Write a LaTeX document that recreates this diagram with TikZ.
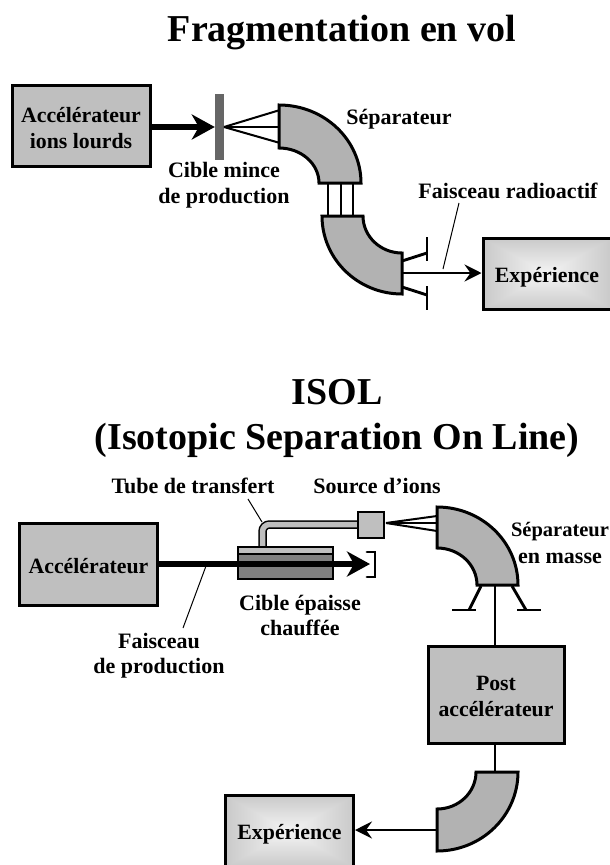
\documentclass[tikz,border=0pt]{standalone}
\usepackage{fontspec}
\setmainfont{Liberation Serif}
\usetikzlibrary{arrows.meta}
\pgfdeclarefunctionalshading{boxglow}{\pgfpoint{-50bp}{-50bp}}{\pgfpoint{50bp}{50bp}}{}{
	abs 50 div exch abs 50 div 2 copy lt {exch} if pop
	0.34 mul 0.96 exch sub dup dup
}
\tikzset{titre/.style={font=\bfseries\fontsize{38}{38}\selectfont, inner sep=0pt, anchor=base}}
\tikzset{legende/.style={font=\bfseries\fontsize{22}{22}\selectfont, inner sep=0pt, anchor=base}}
\tikzset{bloc/.style={draw=black, fill=blocgray, line width=3pt, inner sep=0pt, font=\bfseries\fontsize{21.8}{26}\selectfont, align=center, text height=20pt, text depth=3pt}}
\tikzset{deuxlignes/.style={text height=47pt}}
\tikzset{expe/.style={draw=black, shading=boxglow, line width=3pt, inner sep=0pt, minimum width=128pt, minimum height=71pt, font=\bfseries\fontsize{21.8}{26}\selectfont, text height=20pt, text depth=3pt}}
\tikzset{aimant/.style={draw=black, fill=sepgray, line width=3pt, line join=miter}}
\tikzset{trait/.style={line width=2.9pt}}
\tikzset{rayon/.style={line width=2pt}}
\tikzset{fleche/.style={line width=2.9pt, -{Stealth[length=17pt, width=17pt, inset=6pt]}}}
\tikzset{grossefleche/.style={line width=5.8pt, -{Stealth[length=23pt, width=25pt, inset=7pt]}}}
\tikzset{fil/.style={line width=1pt}}

\begin{document}
\begin{tikzpicture}[x=1pt, y=-1pt]

	\definecolor{blocgray}{gray}{0.75}
	\definecolor{sepgray}{gray}{0.70}
	\definecolor{ciblegray}{gray}{0.40}
	\definecolor{couchegray}{gray}{0.50}

	\useasboundingbox (0,0) rectangle (610,865);

	% titles
	\node (titre1) at (342,41.5) [titre] {Fragmentation en vol};
	\node (titre2) at (337,404) [titre] {ISOL};
	\node (titre3) at (337,449) [titre] {(Isotopic Separation On Line)};

	%%% first part

	% accelerator and target
	\node (acc1) at (81,126) [bloc, deuxlignes, minimum width=138pt, minimum height=81pt] {Accélérateur\\ions lourds};
	\node (cible1) at (219.5,127) [fill=ciblegray, minimum width=9pt, minimum height=66pt, inner sep=0pt] {};
	\coordinate (foyer1) at (224,127);
	\draw [grossefleche] (acc1.east |- foyer1) -- (cible1.west);

	% fan
	\coordinate (F1a) at (280,110);
	\coordinate (F1b) at (280,127);
	\coordinate (F1c) at (280,143);
	\foreach \f in {F1a, F1b, F1c}
		\draw [rayon] (foyer1) -- (\f);

	% separator
	\draw [aimant] (279,105) arc[start angle=270, end angle=360, x radius=82, y radius=78] -- (319,183) arc[start angle=360, end angle=270, x radius=40, y radius=35] -- cycle;
	\draw [aimant] (322,216) arc[start angle=180, end angle=90, x radius=80, y radius=78] -- (402,253) arc[start angle=90, end angle=180, x radius=39, y radius=37] -- cycle;

	% lines between the two parts
	\foreach \x in {328, 341, 353}
		\draw [trait] (\x,183) -- (\x,216);

	% slits
	\coordinate (S1h) at (427,253);
	\coordinate (S1b) at (427,295);
	\draw [trait] (427,237) -- (427,261);
	\draw [trait] (427,286) -- (427,310);
	\draw [trait] (402,261) -- (S1h);
	\draw [trait] (402,287) -- (S1b);

	% radioactive beam
	\node (expe1) at (547,273.5) [expe] {Expérience};
	\coordinate (sortie1) at (402,273);
	\draw [fleche] (sortie1) -- (sortie1 -| expe1.west);
	\coordinate (R1) at (459,203);
	\coordinate (R2) at (443,269);
	\draw [fil] (R1) -- (R2);

	% labels
	\node (cibleL1) at (224,177) [legende] {Cible mince};
	\node (cibleL2) at (224,203) [legende] {de production};
	\node (sepL) at (399,124) [legende] {Séparateur};
	\node (radioL) at (508,198) [legende] {Faisceau radioactif};

	%%% second part

	% tube
	\coordinate (T1) at (262.5,547);
	\coordinate (T2) at (262.5,524.5);
	\coordinate (T3) at (357,524.5);
	\draw [line width=8.5pt, rounded corners=7pt] (T1) -- (T2) -- (T3);
	\draw [line width=5.5pt, blocgray, rounded corners=7pt] (T1) -- (T2) -- (T3);
	\node (source) at (371,525) [draw=black, fill=blocgray, line width=1.5pt, minimum size=26pt, inner sep=0pt] {};

	% thick target
	\node (couche1) at (285.5,550.5) [draw=black, fill=blocgray, line width=1.5pt, minimum width=95pt, minimum height=7pt, inner sep=0pt] {};
	\node (couche2) at (285.5,566.5) [draw=black, fill=couchegray, line width=1.5pt, minimum width=95pt, minimum height=25pt, inner sep=0pt] {};

	% accelerator and beam
	\node (acc2) at (88.5,564.5) [bloc, minimum width=138pt, minimum height=82pt] {Accélérateur};
	\coordinate (bout) at (370,564);
	\draw [grossefleche] (acc2.east |- bout) -- (bout);
	\draw [trait, line cap=round] (367,552) -- (375,552) -- (375,577) -- (367,577);
	\coordinate (P1) at (206,566);
	\coordinate (P2) at (183,628);
	\draw [fil] (P1) -- (P2);
	\coordinate (Q1) at (248,499);
	\coordinate (Q2) at (262,522);
	\draw [fil] (Q1) -- (Q2);

	% fan
	\coordinate (foyer2) at (386,523);
	\coordinate (F2a) at (437,516);
	\coordinate (F2b) at (437,523);
	\coordinate (F2c) at (437,531);
	\foreach \f in {F2a, F2b, F2c}
		\draw [rayon] (foyer2) -- (\f);

	% mass separator
	\draw [aimant] (437,507) arc[start angle=270, end angle=360, x radius=81, y radius=78] -- (477,585) arc[start angle=360, end angle=270, x radius=40, y radius=37] -- cycle;
	\draw [trait] (481,586) -- (469,610);
	\draw [trait] (452,610) -- (476,610);
	\draw [trait] (512,586) -- (526,610);
	\draw [trait] (517,610) -- (541,610);

	% post accelerator
	\node (post) at (496,694.5) [bloc, deuxlignes, minimum width=136pt, minimum height=97pt] {Post\\accélérateur};
	\coordinate (sep3) at (495,586);
	\draw [trait] (sep3) -- (sep3 |- post.north);
	\coordinate (sep4) at (495,772);
	\draw [trait] (sep4 |- post.south) -- (sep4);

	% last separator
	\draw [aimant] (518,772) arc[start angle=0, end angle=90, x radius=81, y radius=79] -- (437,809) arc[start angle=90, end angle=0, x radius=39, y radius=37] -- cycle;

	% experiment
	\node (expe2) at (289.5,831) [expe] {Expérience};
	\coordinate (sortie2) at (437,830);
	\draw [fleche] (sortie2) -- (sortie2 -| expe2.east);

	% labels
	\node (tubeL) at (193,493) [legende] {Tube de transfert};
	\node (sourceL) at (377,493) [legende] {Source d'ions};
	\node (epaisseL1) at (300,610) [legende] {Cible épaisse};
	\node (epaisseL2) at (300,635) [legende] {chauffée};
	\node (faisL1) at (159,648) [legende] {Faisceau};
	\node (faisL2) at (159,673) [legende] {de production};
	\node (masseL1) at (560,536) [legende, font=\bfseries\fontsize{20.5}{20.5}\selectfont] {Séparateur};
	\node (masseL2) at (560,563) [legende] {en masse};

\end{tikzpicture}
\end{document}
